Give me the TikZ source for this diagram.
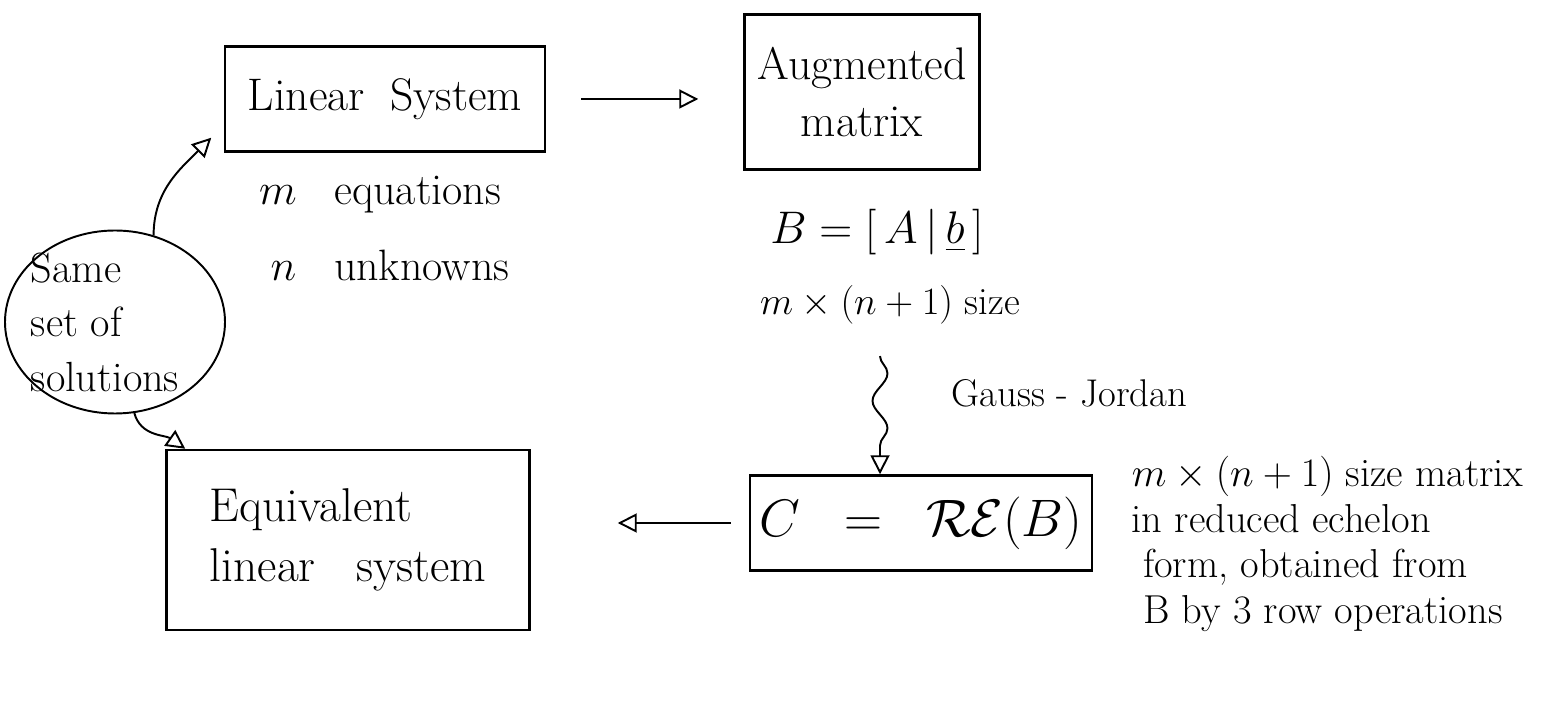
\RequirePackage{fix-cm}
\documentclass[tikz,border=0pt]{standalone}
\usepackage{fontspec}
\usepackage{amsmath}
\usepackage{tikz}
\usetikzlibrary{arrows.meta,positioning,decorations.pathmorphing,
                shapes.geometric,calc}

\begin{document}
\begin{tikzpicture}[
    line width=1.1pt,
    box/.style={draw,line width=1.4pt,inner sep=0pt},
    big/.style={font=\fontsize{26}{32}\selectfont},
    txt/.style={font=\fontsize{25}{28}\selectfont},
    tip/.style={-{Triangle[open,length=3.8mm,width=3.8mm]}}]
    % 1 cm = 50 px of the sketch, y measured from the bottom
    \useasboundingbox (0,0) rectangle (31.16,14.34);
    \node[box,big,minimum width=6.4cm,minimum height=2.1cm] (lin) at (7.70,12.36){Linear\;\;System};
    \node[box,big,align=center,minimum width=4.7cm,minimum height=3.1cm] (aug) at (17.24,12.5){Augmented\\matrix};
    \node[box,font=\fontsize{27}{34}\selectfont,align=left,minimum width=7.26cm,minimum height=3.6cm] (eqv) at (6.96,3.54){Equivalent\\linear\;\; system};
    \node[box,font=\fontsize{30}{34}\selectfont,minimum width=6.84cm,minimum height=1.9cm] (cbox) at (18.42,3.88){$C\;\;=\;\;\mathcal{R}\mathcal{E}(B)$};
    \node[ellipse,draw,minimum width=4.4cm,minimum height=3.66cm,
          label={[align=left,xshift=-0.2cm,font=\fontsize{24}{31}\selectfont]center:Same\\set of\\solutions}] (sol) at (2.3,7.9){};
    % texts below the boxes
    \node[txt] (meq) at (7.6,10.44){$m$\;\; equations};
    \node[txt] (nun) at (7.8,9.04){$n$\;\; unknowns};
    \node[big] (bab) at (17.54,9.7){$B=[\,A\,|\,\underline{b}\,]$};
    \node[font=\fontsize{22}{26}\selectfont] (size) at (17.8,8.24){$m\times(n+1)$ size};
    \node[font=\fontsize{22}{26}\selectfont,anchor=west] (gj) at (18.9,6.48){Gauss - Jordan};
    \node[font=\fontsize{23}{26}\selectfont,anchor=north west,align=left] (desc) at (22.5,5.35)
      {$m\times(n+1)$ size matrix\\in reduced echelon\\\;form, obtained from\\\;B by 3 row operations};
    \coordinate (wv) at ($(size.south)+(-0.2,-0.5)$);
    % connectors
    \draw[tip,shorten <=0.7cm,shorten >=0.9cm](lin.east)--(lin.east -| aug.west);
    \draw[tip,shorten <=0.36cm,shorten >=1.74cm](cbox.west)--(cbox.west -| eqv.east);
    \draw[tip,decorate,decoration={snake,amplitude=0.15cm,segment length=1.1cm,post length=3mm}]
      (wv)--(wv |- cbox.north);
    \draw[tip](sol.66) to[out=90,in=-135] ($(lin.south west)+(-0.25,0.3)$);
    \draw[tip](sol.-78) to[out=-75,in=145] ($(eqv.north west)+(0.4,0)$);
\end{tikzpicture}
\end{document}
